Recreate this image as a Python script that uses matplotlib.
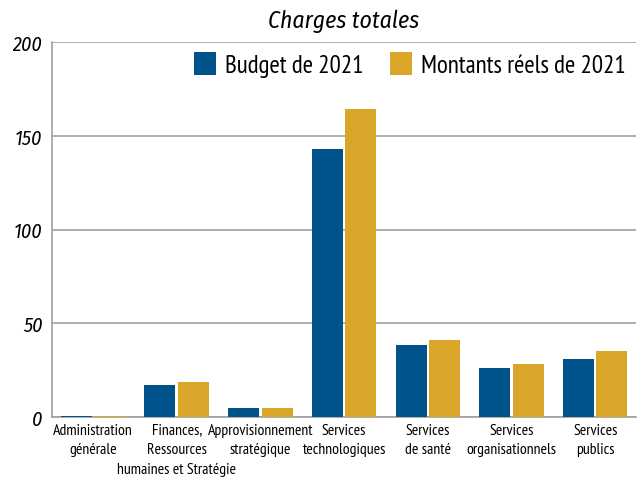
import numpy as np
import matplotlib
matplotlib.use('Agg')
import matplotlib.pyplot as plt

plt.rcParams['font.family'] = ['PT Sans Narrow', 'DejaVu Sans']
italic_font = ['Fira Sans Condensed', 'DejaVu Sans']

categories = ['Administration\ngénérale', 'Finances,\nRessources\nhumaines et Stratégie',
              'Approvisionnement\nstratégique', 'Services\ntechnologiques',
              'Services\nde santé', 'Services\norganisationnels', 'Services\npublics']
budget = [0.5, 16.9, 4.6, 142.8, 38.2, 26.0, 30.8]
actual = [0.5, 18.6, 4.6, 164.1, 40.9, 28.1, 35.1]
series_names = ['Budget de 2021', 'Montants réels de 2021']

blue = '#00538a'
gold = '#d9a62a'

fig = plt.figure(figsize=(6.38, 4.85), dpi=100)
ax = fig.add_axes([0.0815, 0.138, 0.9157, 0.773])

x = np.arange(len(categories))
w = 0.37
ax.bar(x - 0.2, budget, w, color=blue, label=series_names[0], zorder=3)
ax.bar(x + 0.2, actual, w, color=gold, label=series_names[1], zorder=3)

ax.set_xlim(-0.49, 6.49)
ax.set_ylim(0, 200)
ax.set_yticks([0, 50, 100, 150, 200])
ax.set_yticklabels(['0', '50', '100', '150', '200'], fontstyle='italic', fontsize=14.5,
                   family=italic_font)
ax.set_xticks(x)
ax.set_xticklabels(categories, fontsize=11.3, linespacing=1.5)
ax.tick_params(axis='both', length=0)
ax.tick_params(axis='y', pad=7)
ax.tick_params(axis='x', pad=4)
ax.yaxis.grid(True, color='#a0a0a0', linewidth=1.2, zorder=0)
for s in ['top', 'right']:
    ax.spines[s].set_visible(False)
for s in ['left', 'bottom']:
    ax.spines[s].set_color('#a0a0a0')
    ax.spines[s].set_linewidth(1.2)

ax.set_title('Charges totales', fontstyle='italic', fontsize=17, pad=11, family=italic_font)
ax.legend(loc='upper right', bbox_to_anchor=(1.012, 1.02), ncol=2, frameon=False,
          fontsize=18, handlelength=0.9, handleheight=1.05, columnspacing=1.05,
          handletextpad=0.35, borderaxespad=0.3)

fig.savefig('out.png', dpi=100)
